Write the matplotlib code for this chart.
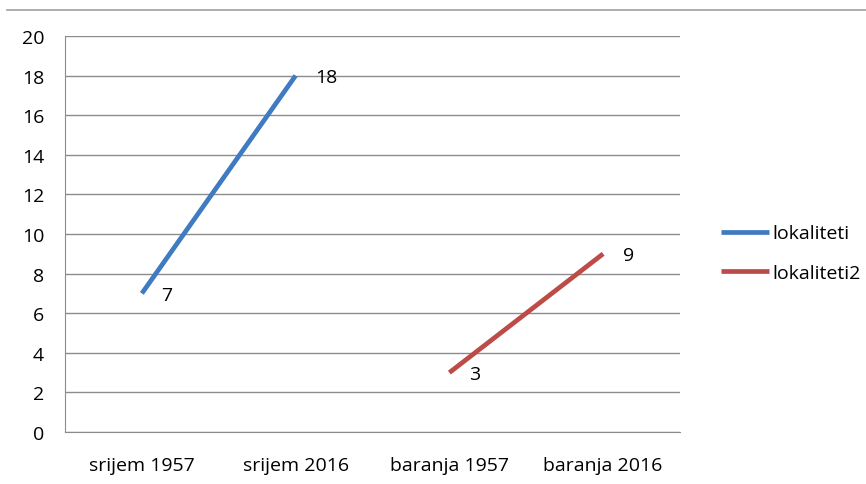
import matplotlib
matplotlib.use("Agg")
import matplotlib.pyplot as plt
from matplotlib.lines import Line2D
import numpy as np

categories = ["srijem 1957", "srijem 2016", "baranja 1957", "baranja 2016"]
lokaliteti = [7, 18, np.nan, np.nan]
lokaliteti2 = [np.nan, np.nan, 3, 9]
yticks = [0, 2, 4, 6, 8, 10, 12, 14, 16, 18, 20]

plt.rcParams['font.family'] = ['Open Sans', 'DejaVu Sans']
FS = 14

fig = plt.figure(figsize=(8.66, 4.85), dpi=100)
ax = fig.add_axes([65/866, 1-433/485, 615/866, (433-37)/485])

x = np.arange(len(categories))
blue = "#3F7BC1"
red = "#BD4B48"
ax.plot(x, lokaliteti, color=blue, lw=3.4, solid_capstyle='butt', label="lokaliteti")
ax.plot(x, lokaliteti2, color=red, lw=3.4, solid_capstyle='butt', label="lokaliteti2")

for xs, ys in ((x, lokaliteti), (x, lokaliteti2)):
    for xi, yi in zip(xs, ys):
        if not np.isnan(yi):
            ax.annotate(f"{yi:g}", (xi, yi), xytext=(14, -1), textcoords='offset points',
                        ha='left', va='center', fontsize=FS)

ax.set_xlim(-0.5, 3.5)
ax.set_ylim(0, 20)
ax.set_yticks(yticks)
ax.set_xticks(x)
ax.set_xticklabels(categories, fontsize=FS)
ax.tick_params(axis='y', labelsize=FS, length=0, pad=15)
ax.tick_params(axis='x', length=0, pad=17)
ax.grid(axis='y', color='#8C8C8C', lw=1)
ax.set_axisbelow(True)
for s in ['top', 'right']:
    ax.spines[s].set_visible(False)
ax.spines['left'].set_color('#8C8C8C')
ax.spines['bottom'].set_color('#8C8C8C')

fig.add_artist(Line2D([7/866, 1], [1-11/485, 1-11/485], color='#A0A0A0', lw=1.2,
                      transform=fig.transFigure))

leg = fig.legend(loc='center left', bbox_to_anchor=(703/866, 1-254/485), frameon=False,
                 fontsize=FS, handlelength=2.5, handletextpad=0.15, labelspacing=1.1)

fig.savefig("out.png", dpi=100)
